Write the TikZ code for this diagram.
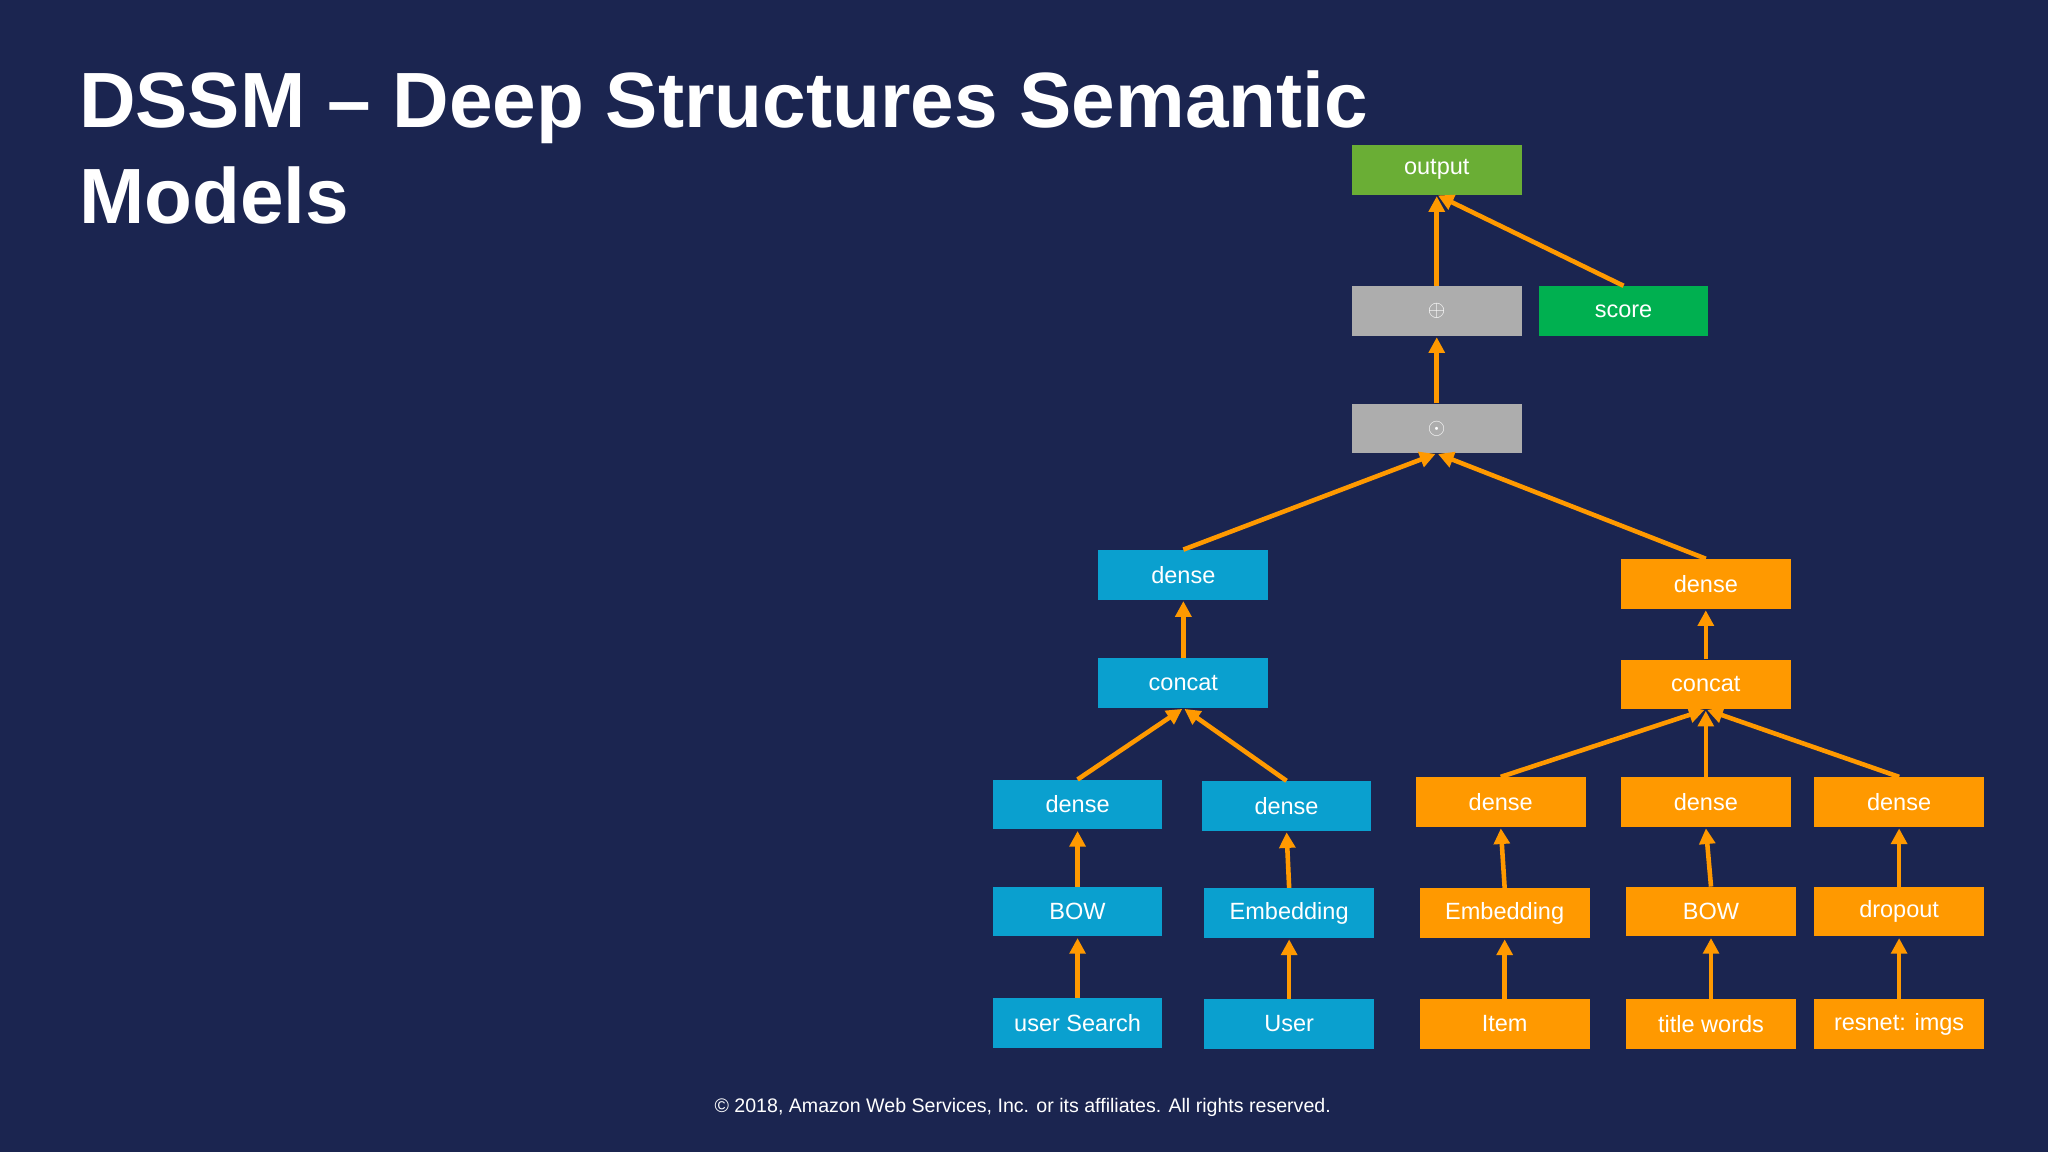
\documentclass[tikz,border=0pt]{standalone}
\usepackage{fontspec}
\setmainfont{Liberation Sans}
\usetikzlibrary{arrows.meta}
\definecolor{bg}{HTML}{1B2550}
\definecolor{bl}{HTML}{0AA0CF}
\definecolor{og}{HTML}{FF9900}
\definecolor{gr}{HTML}{ADADAD}
\definecolor{gn}{HTML}{6AAE35}
\definecolor{sg}{HTML}{00B050}
\begin{document}
\begin{tikzpicture}[x=1pt,y=-1pt,
  box/.style={minimum width=130pt,minimum height=38pt,inner sep=0pt,text=white,font=\fontsize{18}{20}\selectfont},
  b/.style={box,fill=bl},o/.style={box,fill=og},g/.style={box,fill=gr},
  arr/.style={draw=og,line width=3.5pt,-{Triangle[length=12pt,width=12pt]},shorten >=1pt}]
\fill[bg] (0,0) rectangle (1568,882);
\useasboundingbox (0,0) rectangle (1568,882);
\node[anchor=west,text=white,font=\fontsize{60}{73}\selectfont\bfseries,align=left] (title) at (57,113) {DSSM – Deep Structures Semantic\\Models};
\node[box,fill=gn] (out) at (1100,130) {output};
\node[g] (plus) at (1100,238) {$\oplus$};
\node[box,fill=sg] (score) at (1243,238) {score};
\node[g] (dot) at (1100,328) {$\odot$};
\node[b] (ld) at (906,440) {dense};
\node[b] (lc) at (906,523) {concat};
\node[b] (ld1) at (825,616) {dense};
\node[b] (ld2) at (985,617) {dense};
\node[b] (lbow) at (825,698) {BOW};
\node[b] (lemb) at (987,699) {Embedding};
\node[b] (us) at (825,783) {user Search};
\node[b] (user) at (987,784) {User};
\node[o] (rd) at (1306,447) {dense};
\node[o] (rc) at (1306,524) {concat};
\node[o] (rd1) at (1149,614) {dense};
\node[o] (rd2) at (1306,614) {dense};
\node[o] (rd3) at (1454,614) {dense};
\node[o] (remb) at (1152,699) {Embedding};
\node[o] (rbow) at (1310,698) {BOW};
\node[o] (drop) at (1454,698) {dropout};
\node[o] (item) at (1152,784) {Item};
\node[o] (tw) at (1310,784) {title words};
\node[o] (res) at (1454,784) {resnet: imgs};
\node[text=white,font=\fontsize{15}{17}\selectfont] (copy) at (783,848) {© 2018, Amazon Web Services, Inc. or its affiliates. All rights reserved.};
\draw[arr] (plus.north) -- (out.south);
\draw[arr] (score.north) -- (out.south);
\draw[arr] (dot.north) -- (plus.south);
\draw[arr] (ld.north) -- (dot.south);
\draw[arr] (rd.north) -- (dot.south);
\draw[arr] (lc.north) -- (ld.south);
\draw[arr] (ld1.north) -- (lc.south);
\draw[arr] (ld2.north) -- (lc.south);
\draw[arr] (lbow.north) -- (ld1.south);
\draw[arr] (lemb.north) -- (ld2.south);
\draw[arr] (us.north) -- (lbow.south);
\draw[arr] (user.north) -- (lemb.south);
\draw[arr] (rc.north) -- (rd.south);
\draw[arr] (rd1.north) -- (rc.south);
\draw[arr] (rd2.north) -- (rc.south);
\draw[arr] (rd3.north) -- (rc.south);
\draw[arr] (remb.north) -- (rd1.south);
\draw[arr] (rbow.north) -- (rd2.south);
\draw[arr] (drop.north) -- (rd3.south);
\draw[arr] (item.north) -- (remb.south);
\draw[arr] (tw.north) -- (rbow.south);
\draw[arr] (res.north) -- (drop.south);
\end{tikzpicture}
\end{document}
